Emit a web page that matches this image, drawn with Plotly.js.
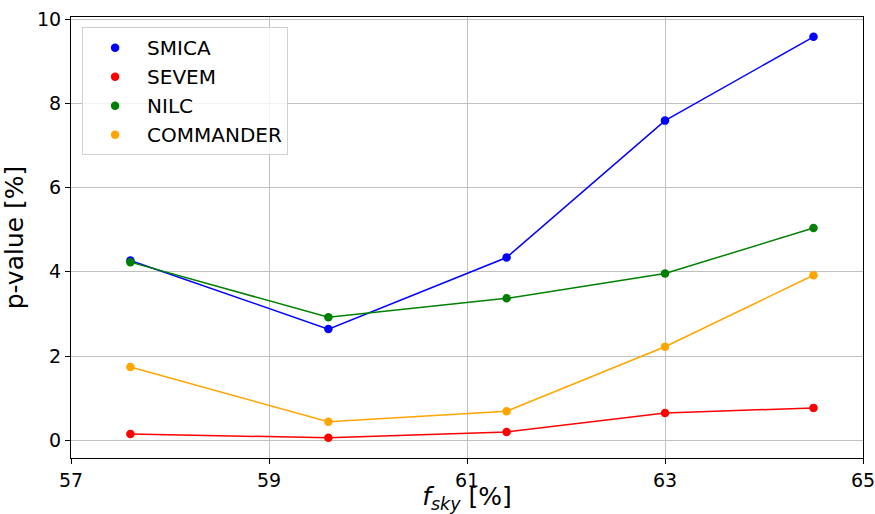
<!DOCTYPE html>
<html>
<head>
<meta charset="utf-8">
<script src="https://cdn.plot.ly/plotly-3.0.1.min.js"></script>
<style>html,body{margin:0;padding:0;background:#fff;}#chart{width:875px;height:514px;}</style>
</head>
<body>
<div id="chart"></div>
<script>
const fsky = [57.6, 59.6, 61.4, 63.0, 64.5];
const seriesNames = ["SMICA", "SEVEM", "NILC", "COMMANDER"];
const smica = [4.27, 2.64, 4.34, 7.59, 9.58];
const sevem = [0.15, 0.06, 0.20, 0.65, 0.77];
const nilc = [4.23, 2.92, 3.37, 3.96, 5.04];
const commander = [1.74, 0.44, 0.69, 2.22, 3.92];
const xTicks = [57, 59, 61, 63, 65];
const yTicks = [0, 2, 4, 6, 8, 10];

const colors = ["#0000ff", "#ff0000", "#008000", "#ffa500"];
const values = [smica, sevem, nilc, commander];

const traces = [];
values.forEach((v, i) => {
  traces.push({x: fsky, y: v, mode: "lines", type: "scatter",
    line: {color: colors[i], width: 1.5}, showlegend: false, hoverinfo: "skip"});
});
values.forEach((v, i) => {
  traces.push({x: fsky, y: v, mode: "markers", type: "scatter", name: seriesNames[i],
    legendgroup: "g" + i,
    marker: {color: colors[i], size: 8.5}});
});

const font = {family: "DejaVu Sans, sans-serif", color: "#000"};
const layout = {
  width: 875, height: 514,
  margin: {l: 71, r: 12, t: 17, b: 56},
  paper_bgcolor: "#fff", plot_bgcolor: "#fff",
  font: Object.assign({size: 19}, font),
  showlegend: true,
  legend: {x: 0.014, y: 0.977, xanchor: "left", yanchor: "top",
    bgcolor: "rgba(255,255,255,0.8)", bordercolor: "#d0d0d0", borderwidth: 1,
    itemwidth: 54,
    font: Object.assign({size: 20}, font), traceorder: "grouped", tracegroupgap: 0},
  xaxis: {range: [57, 65], tickvals: xTicks, ticktext: xTicks.map(String),
    ticklabeloverflow: "allow",
    showgrid: true, gridcolor: "#c0c0c0", gridwidth: 1, zeroline: false,
    showline: true, linecolor: "#000", linewidth: 1, mirror: true,
    ticks: "outside", ticklen: 5, tickcolor: "#000",
    tickfont: Object.assign({size: 19}, font),
    title: {text: "<i>f</i><sub><i>sky</i></sub> [%]", font: Object.assign({size: 25}, font), standoff: 2}},
  yaxis: {range: [-0.42, 10.05], tickvals: yTicks, ticktext: yTicks.map(String),
    ticklabeloverflow: "allow",
    showgrid: true, gridcolor: "#c0c0c0", gridwidth: 1, zeroline: false,
    showline: true, linecolor: "#000", linewidth: 1, mirror: true,
    ticks: "outside", ticklen: 5, tickcolor: "#000",
    tickfont: Object.assign({size: 19}, font),
    title: {text: "p-value [%]", font: Object.assign({size: 25}, font), standoff: 8}}
};
Plotly.newPlot("chart", traces, layout, {displayModeBar: false, staticPlot: true});
</script>
</body>
</html>
